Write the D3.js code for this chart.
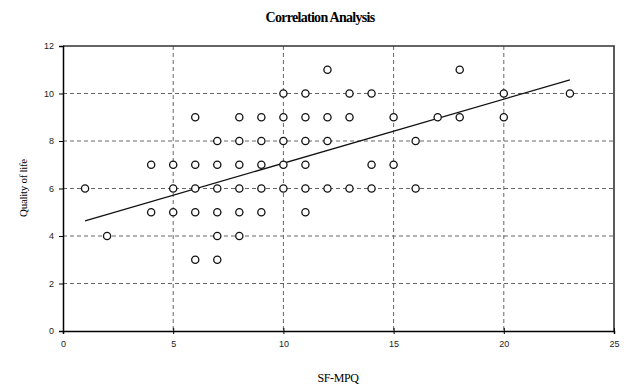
<!DOCTYPE html>
<html>
<head>
<meta charset="utf-8">
<script src="https://cdn.jsdelivr.net/npm/d3@7"></script>
<style>
  body { margin: 0; background: #fff; }
  .tick text { font-family: "Liberation Sans", Arial, sans-serif; font-size: 9px; fill: #222; }
</style>
</head>
<body>
<svg id="chart" width="631" height="390"></svg>
<script>
var sfmpq = [12, 18,
  10, 11, 13, 14, 20, 23,
  6, 8, 9, 10, 11, 12, 13, 15, 17, 18, 20,
  7, 8, 9, 10, 11, 12, 16,
  4, 5, 6, 7, 8, 9, 10, 11, 14, 15,
  1, 5, 6, 7, 8, 9, 10, 11, 12, 13, 14, 16,
  4, 5, 6, 7, 8, 9, 11,
  2, 7, 8,
  6, 7];
var quality = [11, 11,
  10, 10, 10, 10, 10, 10,
  9, 9, 9, 9, 9, 9, 9, 9, 9, 9, 9,
  8, 8, 8, 8, 8, 8, 8,
  7, 7, 7, 7, 7, 7, 7, 7, 7, 7,
  6, 6, 6, 6, 6, 6, 6, 6, 6, 6, 6, 6,
  5, 5, 5, 5, 5, 5, 5,
  4, 4, 4,
  3, 3];

// trend line ends as drawn
var trendX = [1, 23];
var trendY = [4.64, 10.57];

var xTicks = [0, 5, 10, 15, 20, 25];
var yTicks = [0, 2, 4, 6, 8, 10, 12];

var svg = d3.select("#chart");
var pLeft = 63, pRight = 614, pTop = 46, pBottom = 331;

var x = d3.scaleLinear().domain([0, 25]).range([pLeft, pRight]);
var y = d3.scaleLinear().domain([0, 12]).range([pBottom, pTop]);

// grid
svg.append("g")
  .selectAll("line")
  .data(xTicks.slice(1, -1))
  .enter().append("line")
  .attr("x1", function(d) { return x(d); })
  .attr("x2", function(d) { return x(d); })
  .attr("y1", pTop).attr("y2", pBottom)
  .attr("stroke", "#666").attr("stroke-width", 1)
  .attr("stroke-dasharray", "4,3");

svg.append("g")
  .selectAll("line")
  .data(yTicks.slice(1, -1))
  .enter().append("line")
  .attr("y1", function(d) { return y(d); })
  .attr("y2", function(d) { return y(d); })
  .attr("x1", pLeft).attr("x2", pRight)
  .attr("stroke", "#666").attr("stroke-width", 1)
  .attr("stroke-dasharray", "4,3");

// frame top / right
svg.append("path")
  .attr("d", "M" + pLeft + "," + pTop + "H" + pRight + "V" + pBottom)
  .attr("fill", "none").attr("stroke", "#333").attr("stroke-width", 1.6);

// axes
var xAxis = d3.axisBottom(x).tickValues(xTicks).tickSize(3).tickPadding(7);
var gx = svg.append("g").attr("transform", "translate(0," + pBottom + ")").call(xAxis);
gx.selectAll(".tick line").attr("y1", -3).attr("stroke", "#000");
gx.select(".domain").attr("stroke", "#000").attr("stroke-width", 1.5);

var yAxis = d3.axisLeft(y).tickValues(yTicks).tickSize(4).tickPadding(5);
var gy = svg.append("g").attr("transform", "translate(" + pLeft + ",0)").call(yAxis);
gy.selectAll(".tick line").attr("stroke", "#000");
gy.select(".domain").attr("stroke", "#000").attr("stroke-width", 1.5);

// trend line
svg.append("line")
  .attr("x1", x(trendX[0])).attr("y1", y(trendY[0]))
  .attr("x2", x(trendX[1])).attr("y2", y(trendY[1]))
  .attr("stroke", "#111").attr("stroke-width", 1.3);

// points
svg.append("g")
  .selectAll("circle")
  .data(sfmpq)
  .enter().append("circle")
  .attr("cx", function(d) { return x(d); })
  .attr("cy", function(d, i) { return y(quality[i]); })
  .attr("r", 3.6)
  .attr("fill", "#fff")
  .attr("stroke", "#111")
  .attr("stroke-width", 1.3);

// titles
svg.append("text")
  .attr("x", 320).attr("y", 22)
  .attr("text-anchor", "middle")
  .style("font-family", "'Liberation Serif', 'Times New Roman', serif")
  .style("font-weight", "bold").style("font-size", "14px")
  .style("letter-spacing", "-0.7px")
  .text("Correlation Analysis");

svg.append("text")
  .attr("x", 338).attr("y", 382)
  .attr("text-anchor", "middle")
  .style("font-family", "'Liberation Serif', 'Times New Roman', serif")
  .style("font-size", "12px")
  .style("letter-spacing", "-0.4px")
  .text("SF-MPQ");

svg.append("text")
  .attr("transform", "translate(27,188) rotate(-90)")
  .attr("text-anchor", "middle")
  .style("font-family", "'Liberation Serif', 'Times New Roman', serif")
  .style("font-size", "11px")
  .style("letter-spacing", "-0.3px")
  .text("Quality of life");
</script>
</body>
</html>
